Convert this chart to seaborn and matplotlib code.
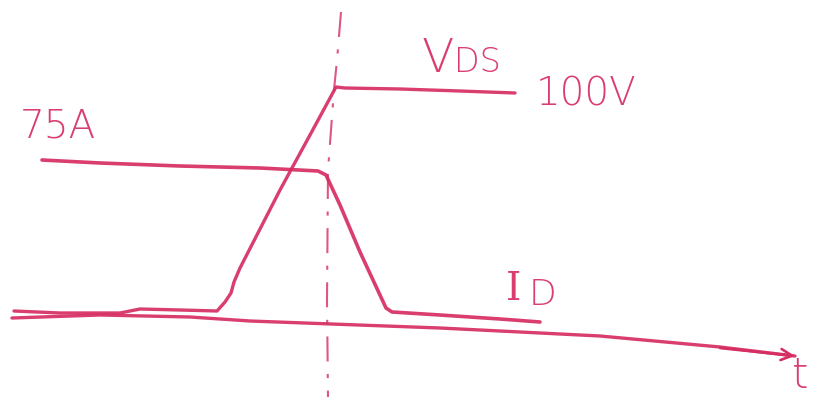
import matplotlib
matplotlib.use("Agg")
import matplotlib.pyplot as plt
import seaborn as sns
import pandas as pd

sns.set_theme(style="white")
plt.rcParams["font.family"] = ["DejaVu Sans"]

INK = "#d62d62"

# Sketch coordinates (x to the right, y downward)
vds_x = [14, 60, 120, 140, 180, 217, 225, 231, 234, 240, 280, 310, 336, 345, 400, 460, 515]
vds_y = [311, 313, 313, 309, 310, 311, 302, 293, 282, 268, 190, 135, 87, 88, 89, 91, 93]

id_x = [42, 100, 180, 260, 318, 326, 340, 360, 386, 392, 440, 500, 540]
id_y = [160, 163, 166, 168, 171, 175, 205, 252, 308, 312, 315, 319, 322]

axis_x = [12, 100, 190, 250, 440, 600, 720, 795]
axis_y = [318, 315, 317, 321, 328, 336, 347, 356]

mark_x = [341, 337, 334, 328, 327, 328]
mark_y = [12, 60, 90, 170, 300, 397]

labels = ["75A", "V", "DS", "100V", "I", "D", "t"]
label_x = [20, 422, 454, 536, 506, 529, 792]
label_y = [138, 72, 72, 106, 300, 305, 388]
label_size = [28, 34, 24, 28, 28, 26, 30]
label_font = ["DejaVu Sans", "DejaVu Sans", "DejaVu Sans", "DejaVu Sans",
              "DejaVu Serif", "DejaVu Sans", "DejaVu Sans"]

fig = plt.figure(figsize=(8.24, 3.97), dpi=100)
ax = fig.add_axes([0, 0, 1, 1])

df_v = pd.DataFrame({"x": vds_x, "y": vds_y})
df_i = pd.DataFrame({"x": id_x, "y": id_y})
df_a = pd.DataFrame({"x": axis_x, "y": axis_y})
df_m = pd.DataFrame({"x": mark_x, "y": mark_y})

for df, lw in ((df_a, 2.4), (df_v, 2.4), (df_i, 2.6)):
    sns.lineplot(data=df, x="x", y="y", sort=False, estimator=None, ax=ax,
                 color=INK, linewidth=lw, alpha=0.92)
    ax.lines[-1].set_solid_joinstyle("round")
    ax.lines[-1].set_solid_capstyle("round")

sns.lineplot(data=df_m, x="x", y="y", sort=False, estimator=None, ax=ax,
             color=INK, linewidth=1.5, alpha=0.8)
ax.lines[-1].set_dashes([12, 6, 2, 6])

# arrow head at the end of the time axis
ax.annotate("", xy=(axis_x[-1], axis_y[-1]), xytext=(axis_x[-2], axis_y[-2] + 1),
            arrowprops=dict(arrowstyle="->", color=INK, lw=1.9,
                            mutation_scale=20, shrinkA=0, shrinkB=0))

for t, x, y, s, f in zip(labels, label_x, label_y, label_size, label_font):
    ax.text(x, y, t, color=INK, fontsize=s, ha="left", va="baseline",
            family=f, fontweight="light", alpha=0.92)

ax.set_xlim(0, 824)
ax.set_ylim(397, 0)
ax.axis("off")
fig.savefig("out.png", dpi=100, facecolor="white")
